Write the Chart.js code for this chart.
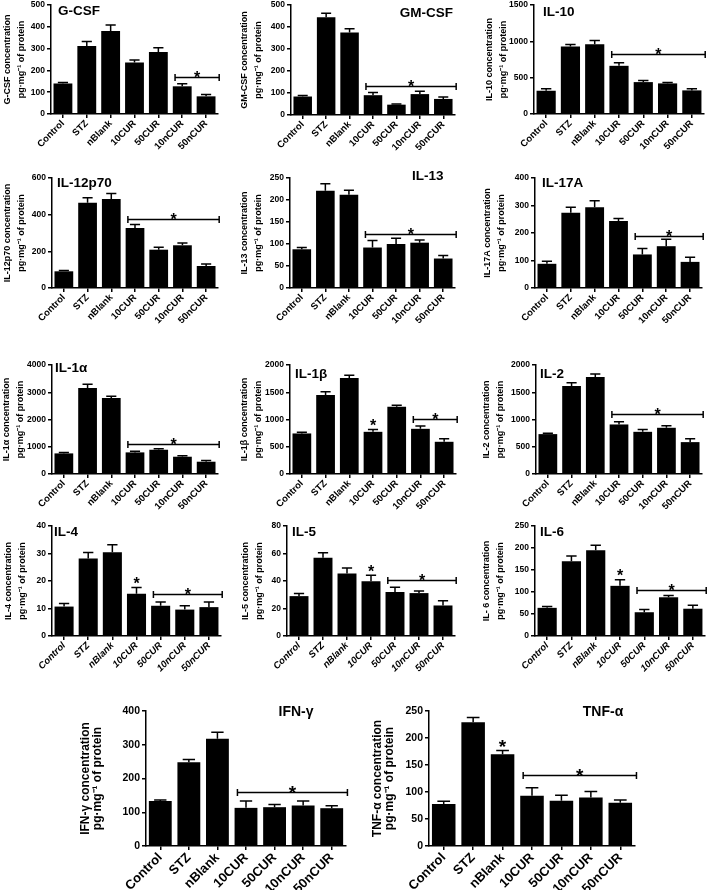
<!DOCTYPE html>
<html>
<head>
<meta charset="utf-8">
<script src="https://cdn.jsdelivr.net/npm/chart.js@4.4.0/dist/chart.umd.min.js"></script>
<style>
body { margin: 0; background: #fff; }
#wrap { position: relative; width: 709px; height: 890px; overflow: hidden; }
#wrap canvas { position: absolute; }
</style>
</head>
<body>
<div id="wrap"></div>
<script>
// groups on the x axis of every panel
const groups = ['Control', 'STZ', 'nBlank', '10CUR', '50CUR', '10nCUR', '50nCUR']

// mean and error (upper bar), pg·mg-1 of protein
const gcsf = [140, 312, 381, 236, 284, 127, 81]
const gcsfErr = [5, 21, 27, 12, 20, 12, 9]
const gmcsf = [84, 444, 375, 90, 47, 95, 73]
const gmcsfErr = [5, 18, 17, 12, 3, 13, 9]
const il10 = [320, 928, 960, 663, 439, 421, 325]
const il10Err = [27, 28, 50, 41, 23, 13, 22]
const il12 = [91, 465, 485, 327, 209, 233, 120]
const il12Err = [5, 27, 30, 20, 13, 13, 11]
const il13 = [88, 221, 212, 92, 100, 103, 67]
const il13Err = [4, 16, 10, 16, 13, 6, 7]
const il17 = [88, 274, 294, 244, 122, 152, 95]
const il17Err = [9, 20, 23, 9, 22, 25, 17]
const il1a = [756, 3160, 2790, 793, 890, 634, 451]
const il1aErr = [30, 130, 60, 45, 35, 35, 45]
const il1b = [744, 1450, 1760, 774, 1232, 829, 591]
const il1bErr = [24, 60, 50, 43, 30, 50, 55]
const il2 = [732, 1616, 1780, 909, 774, 848, 585]
const il2Err = [18, 60, 55, 48, 43, 36, 61]
const il4 = [10.7, 28.2, 30.5, 15.4, 11, 9.6, 10.5]
const il4Err = [1.1, 2.2, 2.7, 2.2, 1.4, 1.4, 1.9]
const il5 = [29, 57, 45.5, 39.8, 32, 31.2, 22.2]
const il5Err = [2, 3.5, 4, 4.3, 3.4, 1.5, 3.4]
const il6 = [64, 170, 195, 114, 54, 88, 62]
const il6Err = [3, 12, 11, 14, 6, 4, 8]
const ifng = [133, 248, 318, 113, 115, 120, 112]
const ifngErr = [3, 8, 19, 20, 8, 13, 7]
const tnfa = [78, 229, 170, 93, 84, 90, 80]
const tnfaErr = [5, 9, 7, 15, 10, 11, 5]

// y axis ranges [max, step]
const axisMax = [500, 500, 1500, 600, 250, 400, 4000, 2000, 2000, 40, 80, 250, 400, 250]
const axisStep = [100, 100, 500, 200, 50, 100, 1000, 500, 500, 10, 20, 50, 100, 50]

// significance brackets [from group, to group, height] and single stars (group index)
const spans = [
    [[5, 6, 169]], [[3, 6, 134]], [[3, 6, 823]],
    [[3, 6, 378]], [[3, 6, 123]], [[4, 6, 190]],
    [[3, 6, 1085]], [[5, 6, 1006]], [[3, 6, 1104]],
    [[4, 6, 15.1]], [[4, 6, 40.5]], [[4, 6, 105]],
    [[3, 6, 160]], [[3, 6, 131]]
]
const stars = [[], [], [], [], [], [], [], [3], [], [3], [3], [3], [], [2]]

const names = ['G-CSF', 'GM-CSF', 'IL-10', 'IL-12p70', 'IL-13', 'IL-17A', 'IL-1α', 'IL-1β', 'IL-2',
    'IL-4', 'IL-5', 'IL-6', 'IFN-γ', 'TNF-α']
const axisNames = ['G-CSF', 'GM-CSF', 'IL-10', 'IL-12p70', 'IL-13', 'IL-17A', 'IL-1α', 'IL-1β', 'IL-2',
    'IL-4', 'IL-5', 'IL- 6', 'IFN-γ', 'TNF-α']

const means = [gcsf, gmcsf, il10, il12, il13, il17, il1a, il1b, il2, il4, il5, il6, ifng, tnfa]
const errs = [gcsfErr, gmcsfErr, il10Err, il12Err, il13Err, il17Err, il1aErr, il1bErr, il2Err,
    il4Err, il5Err, il6Err, ifngErr, tnfaErr]

// page placement: [box left, plot left, plot right, plot top, plot bottom, title x, title y, title align]
const place = [
    [1, 51, 218, 5, 114, 58, 11, 'left'],
    [238, 291, 455, 5, 115, 453, 13, 'right'],
    [483, 534, 704, 5, 114, 543, 12, 'left'],
    [1, 52, 218, 178, 288, 57, 183, 'left'],
    [238, 290, 455, 178, 288, 412, 176, 'left'],
    [481, 535, 702, 178, 288, 542, 183, 'left'],
    [0, 52, 218, 365, 474, 55, 368, 'left'],
    [238, 290, 456, 365, 474, 295, 374, 'left'],
    [480, 536, 702, 365, 474, 540, 374, 'left'],
    [2, 52, 221, 526, 636, 54, 532, 'left'],
    [239, 287, 455, 526, 636, 292, 532, 'left'],
    [480, 535, 705, 526, 636, 540, 532, 'left'],
    [79, 146, 346, 711, 846, 296, 712, 'center'],
    [371, 429, 635, 711, 846, 603, 712, 'center']
]

const fontFamily = '"Liberation Sans", Arial, Helvetica, sans-serif'
Chart.defaults.font.family = fontFamily
Chart.defaults.color = '#000'

const extras = {
    id: 'extras',
    afterDatasetsDraw(chart, args, opts) {
        const ctx = chart.ctx
        const xs = chart.scales.x
        const ys = chart.scales.y
        const step = xs.getPixelForValue(1) - xs.getPixelForValue(0)
        const bars = chart.getDatasetMeta(0).data
        ctx.save()
        ctx.strokeStyle = '#000'
        ctx.fillStyle = '#000'
        ctx.lineWidth = 1.5

        // error bars
        bars.forEach((bar, i) => {
            const top = ys.getPixelForValue(opts.means[i] + opts.errs[i])
            const half = bar.width * 0.27
            ctx.beginPath()
            ctx.moveTo(bar.x, bar.y)
            ctx.lineTo(bar.x, top)
            ctx.moveTo(bar.x - half, top)
            ctx.lineTo(bar.x + half, top)
            ctx.stroke()
        })

        const s = opts.starSize
        ctx.font = `bold ${s}px ${fontFamily}`
        ctx.textAlign = 'center'
        ctx.textBaseline = 'alphabetic'

        opts.spans.forEach(([a, b, v]) => {
            const x1 = xs.getPixelForValue(a) - 0.3 * step
            const x2 = xs.getPixelForValue(b) + 0.55 * step
            const py = Math.round(ys.getPixelForValue(v)) + 0.5
            ctx.beginPath()
            ctx.moveTo(x1, py)
            ctx.lineTo(x2, py)
            ctx.moveTo(x1, py - 3.5)
            ctx.lineTo(x1, py + 3.5)
            ctx.moveTo(x2, py - 3.5)
            ctx.lineTo(x2, py + 3.5)
            ctx.stroke()
            ctx.fillText('*', (x1 + x2) / 2, py + 0.4 * s - 1)
        })

        // single stars sit clear of the error cap
        opts.stars.forEach((i) => {
            const top = ys.getPixelForValue(opts.means[i] + opts.errs[i])
            ctx.fillText('*', xs.getPixelForValue(i), top + 0.35 * s - 4)
        })

        // panel name
        ctx.font = opts.titleFont
        ctx.textAlign = opts.titleAlign
        ctx.textBaseline = 'middle'
        ctx.fillText(opts.title, opts.titleX, opts.titleY)
        ctx.restore()
    }
}

const wrap = document.getElementById('wrap')

for (let p = 0; p < names.length; p++) {
    const [bx, pl, pr, pt, pb, tx, ty, ta] = place[p]
    const big = p >= 12
    const italic = p >= 9 && p <= 11
    const by = pt - 12
    const bw = pr + 10 - bx
    const bh = Math.min(pb + 50, 890) - by

    const canvas = document.createElement('canvas')
    canvas.width = bw
    canvas.height = bh
    canvas.style.left = bx + 'px'
    canvas.style.top = by + 'px'
    canvas.style.width = bw + 'px'
    canvas.style.height = bh + 'px'
    wrap.appendChild(canvas)

    const yWidth = pl - bx
    const xHeight = by + bh - pb

    new Chart(canvas, {
        type: 'bar',
        data: {
            labels: groups,
            datasets: [{
                data: means[p],
                backgroundColor: '#000',
                borderWidth: 0,
                barPercentage: big ? 0.8 : 0.79,
                categoryPercentage: 1
            }]
        },
        plugins: [extras],
        options: {
            responsive: false,
            animation: false,
            events: [],
            layout: { padding: { top: 12, right: 10, bottom: 0, left: 0 } },
            plugins: {
                legend: { display: false },
                tooltip: { enabled: false },
                extras: {
                    means: means[p],
                    errs: errs[p],
                    spans: spans[p],
                    stars: stars[p],
                    starSize: big ? 19 : 16,
                    title: names[p],
                    titleX: tx - bx,
                    titleY: ty - by,
                    titleAlign: ta,
                    titleFont: big ? `bold 14px ${fontFamily}` : `bold 13.5px ${fontFamily}`
                }
            },
            scales: {
                x: {
                    type: 'category',
                    offset: true,
                    afterFit: (scale) => { scale.height = xHeight },
                    grid: {
                        offset: false,
                        drawOnChartArea: false,
                        drawTicks: true,
                        tickLength: 4,
                        color: '#000',
                        lineWidth: 1.5
                    },
                    border: { color: '#000', width: 1.5 },
                    ticks: {
                        autoSkip: false,
                        minRotation: 45,
                        maxRotation: 45,
                        padding: 0,
                        color: '#000',
                        font: {
                            size: big ? 13 : 9.5,
                            weight: 'bold',
                            style: italic ? 'italic' : 'normal'
                        }
                    }
                },
                y: {
                    min: 0,
                    max: axisMax[p],
                    afterFit: (scale) => { scale.width = yWidth },
                    grid: {
                        drawOnChartArea: false,
                        drawTicks: true,
                        tickLength: 4,
                        color: '#000',
                        lineWidth: 1.5
                    },
                    border: { color: '#000', width: 1.5 },
                    ticks: {
                        stepSize: axisStep[p],
                        padding: 2,
                        color: '#000',
                        callback: (value) => String(value),
                        font: { size: big ? 10.5 : 8.5, weight: 'bold' }
                    },
                    title: {
                        display: true,
                        text: [axisNames[p] + ' concentration', 'pg·mg\u207B\u00B9 of protein'],
                        color: '#000',
                        padding: 0,
                        font: { size: big ? 12 : 9, weight: 'bold', lineHeight: big ? 1.05 : 1.5 }
                    }
                }
            }
        }
    })
}
</script>
</body>
</html>
